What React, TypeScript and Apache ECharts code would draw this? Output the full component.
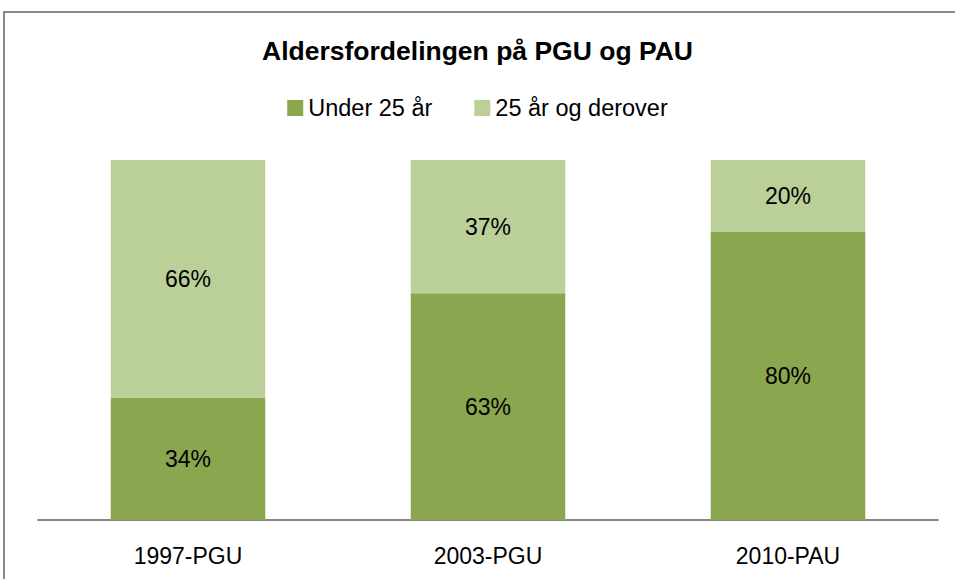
import React, { useEffect, useRef } from "react";
import * as echarts from "echarts";

const categories = ["1997-PGU", "2003-PGU", "2010-PAU"];
const under25 = [34, 63, 80];
const over25 = [66, 37, 20];
const seriesNames = ["Under 25 år", "25 år og derover"];

export default function App() {
  const ref = useRef<HTMLDivElement>(null);
  useEffect(() => {
    if (!ref.current) return;
    const chart = echarts.init(ref.current, undefined, { renderer: "svg" });
    const font = "'Liberation Sans', Arial, sans-serif";
    const labelStyle = {
      show: true,
      position: "inside" as const,
      formatter: "{c}%",
      color: "#000",
      fontSize: 23,
      fontFamily: font,
    };
    chart.setOption({
      animation: false,
      backgroundColor: "#fff",
      title: {
        text: "Aldersfordelingen på PGU og PAU",
        left: "center",
        top: 32,
        textStyle: { fontFamily: font, fontWeight: "bold", fontSize: 26.5, color: "#000" },
      },
      legend: {
        top: 91,
        left: "center",
        itemWidth: 16,
        itemHeight: 16,
        itemGap: 42,
        icon: "rect",
        textStyle: { fontFamily: font, fontSize: 23.5, color: "#000" },
        data: seriesNames,
      },
      graphic: [
        {
          type: "rect",
          shape: { x: 4, y: 12, width: 1000, height: 700 },
          style: { fill: "none", stroke: "#888", lineWidth: 2 },
          silent: true,
        },
      ],
      grid: { left: 38, right: 17, top: 160, bottom: 59, containLabel: false },
      xAxis: {
        type: "category",
        data: categories,
        axisLine: { lineStyle: { color: "#878787", width: 2 } },
        axisTick: { show: false },
        axisLabel: { margin: 24, fontFamily: font, fontSize: 23, color: "#000" },
      },
      yAxis: { type: "value", min: 0, max: 100, show: false },
      series: [
        {
          name: seriesNames[0],
          type: "bar",
          stack: "total",
          data: under25,
          barWidth: "51.5%",
          itemStyle: { color: "#8aa64e" },
          label: labelStyle,
        },
        {
          name: seriesNames[1],
          type: "bar",
          stack: "total",
          data: over25,
          barWidth: "51.5%",
          itemStyle: { color: "#bbcf99" },
          label: labelStyle,
        },
      ],
    });
    return () => chart.dispose();
  }, []);
  return (
    <div
      ref={ref}
      style={{ position: "fixed", left: 0, top: 0, width: 955, height: 579 }}
    />
  );
}
